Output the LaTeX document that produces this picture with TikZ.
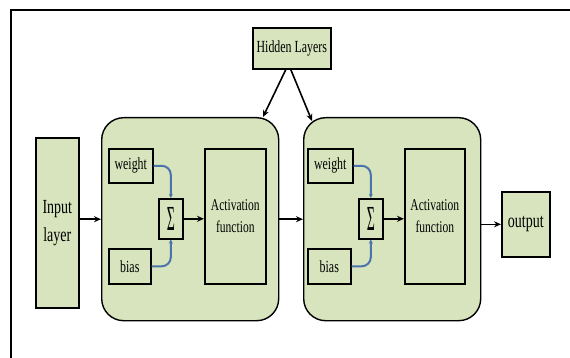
\documentclass[tikz,border=0pt]{standalone}
\usepackage{fontspec}
\setmainfont[FakeStretch=0.7]{Liberation Serif}
\usetikzlibrary{arrows.meta}
\definecolor{lg}{HTML}{D7E4BD}
\definecolor{bl}{HTML}{4A74AC}
\begin{document}
\begin{tikzpicture}[x=1pt,y=-1pt,
  box/.style={draw, line width=1.6pt, fill=lg, inner sep=0pt, anchor=north west, align=center},
  rbox/.style={box, rounded corners=22pt, line width=1.4pt},
  arr/.style={-{Stealth[length=7pt,width=6pt]}, line width=1.6pt},
  barr/.style={-{Stealth[length=4pt,width=4pt]}, line width=2pt, draw=bl, rounded corners=9pt},
  sm/.style={font=\fontsize{17}{20}\selectfont},
  md/.style={font=\fontsize{16.5}{22}\selectfont},
  lgf/.style={font=\fontsize{20}{28}\selectfont}]
\useasboundingbox (0,0) rectangle (570,358);
% frame
\coordinate (f1) at (570,10);
\coordinate (f2) at (11,10);
\coordinate (f3) at (11,358);
\draw[line width=1.8pt] (f1) -- (f2) -- (f3);
% boxes
\node[box, minimum width=78pt, minimum height=41pt, sm] (hid) at (252,27) {Hidden Layers};
\node[box, minimum width=43pt, minimum height=170pt, lgf] (inp) at (35,137) {Input\\layer};
\node[rbox, minimum width=177pt, minimum height=203pt] (L1) at (101,117) {};
\node[rbox, minimum width=177pt, minimum height=203pt] (L2) at (303,117) {};
\node[box, minimum width=48pt, minimum height=65pt, lgf] (out) at (501,191) {output};
% layer 1
\node[box, minimum width=44pt, minimum height=34pt, sm] (w1) at (108,148) {weight};
\node[box, minimum width=42pt, minimum height=35pt, sm] (b1) at (108,248) {bias};
\node[box, minimum width=24pt, minimum height=40pt] (s1) at (158,198) {\scalebox{0.9}[1.6]{\fontsize{22}{22}\selectfont Σ}};
\node[box, minimum width=61pt, minimum height=135pt, md] (a1) at (204,148) {Activation\\function};
% layer 2
\node[box, minimum width=45pt, minimum height=34pt, sm] (w2) at (307,148) {weight};
\node[box, minimum width=43pt, minimum height=35pt, sm] (b2) at (307,248) {bias};
\node[box, minimum width=24pt, minimum height=40pt] (s2) at (358,198) {\scalebox{0.9}[1.6]{\fontsize{22}{22}\selectfont Σ}};
\node[box, minimum width=60pt, minimum height=135pt, md] (a2) at (404,148) {Activation\\function};
% blue connectors
\draw[barr] (w1.east) -| (s1.north);
\draw[barr] (b1.east) -| (s1.south);
\draw[barr] (w2.east) -| (s2.north);
\draw[barr] (b2.east) -| (s2.south);
% black connectors
\draw[arr] (inp.east |- L1.west) -- (L1.west);
\draw[arr] (s1.east) -- (s1.east -| a1.west);
\draw[arr] (L1.east) -- (L2.west);
\draw[arr] (s2.east) -- (s2.east -| a2.west);
\draw[arr] (L2.east |- out.west) -- (out.west);
\coordinate (e1) at (263,117);
\coordinate (e2) at (312,121);
\draw[arr] ([xshift=-6pt]hid.south) -- (e1);
\draw[arr] ([xshift=-1pt]hid.south) -- (e2);
\end{tikzpicture}
\end{document}
